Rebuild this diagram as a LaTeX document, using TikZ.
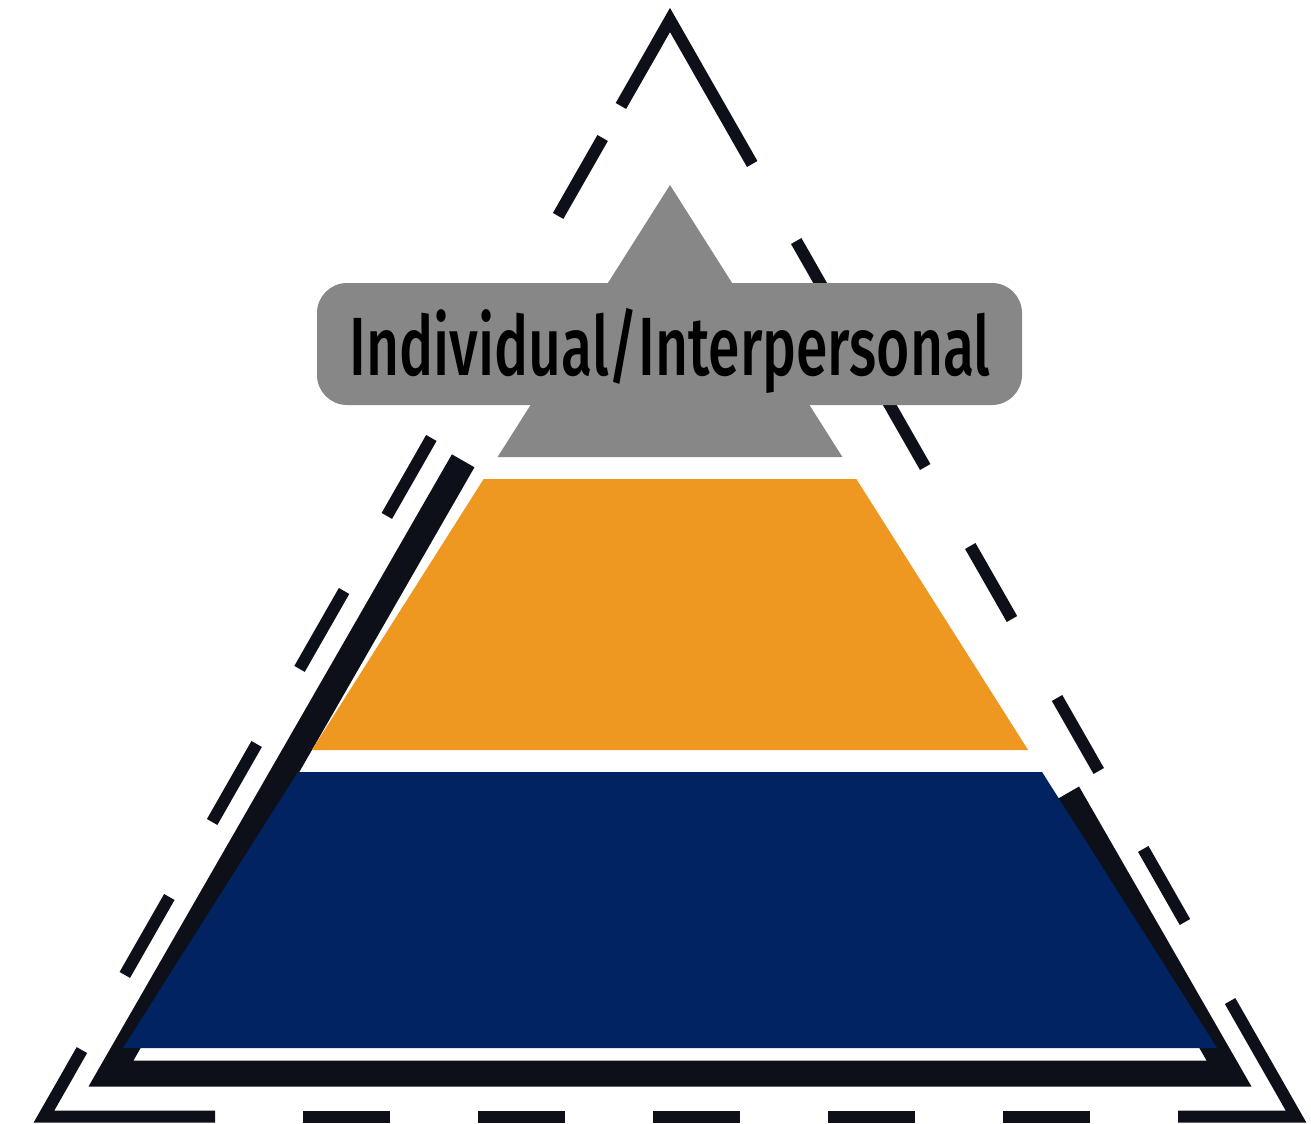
\documentclass[tikz,border=0pt]{standalone}
\usepackage{fontspec}
\newfontfamily\labelfont[FakeStretch=0.69]{Fira Sans Medium}
\usetikzlibrary{calc}
\definecolor{inkblack}{RGB}{13,16,24}
\definecolor{layergray}{RGB}{135,135,135}
\definecolor{layerorange}{RGB}{239,152,33}
\definecolor{layernavy}{RGB}{1,35,97}

\begin{document}
\begin{tikzpicture}[x=0.75pt,y=0.75pt,yscale=-1,xscale=1,
	dashedge/.style={draw=inkblack,line width=9pt},
	thickedge/.style={draw=inkblack,line width=19.5pt},
	labelbox/.style={fill=layergray,rounded corners=22.5pt,minimum width=528.75pt,minimum height=91.5pt,inner sep=0pt},
	labeltext/.style={font=\labelfont\fontsize{62}{62}\selectfont,text=black,inner sep=0pt}]
	\useasboundingbox (0,0) rectangle (1311,1124);
	
	%Outer dashed triangle
	\coordinate (T) at (670,20);
	\coordinate (L) at (44,1116.5);
	\coordinate (R) at (1296,1116.5);
	% corner pieces
	\draw [dashedge] ($(T)!0.0784!(L)$) -- (T) -- ($(T)!0.1313!(R)$) ;
	\draw [dashedge] ($(T)!0.9394!(L)$) -- (L) -- ($(L)!0.1366!(R)$) ;
	\draw [dashedge] ($(L)!0.9058!(R)$) -- (R) -- ($(T)!0.8947!(R)$) ;
	% dashes on the left side
	\foreach \a/\b in {0.1076/0.1787,0.2471/0.3182,0.3812/0.4523,0.5207/0.5918,0.6603/0.7314,0.7998/0.8709}
		\draw [dashedge] ($(T)!\a!(L)$) -- ($(T)!\b!(L)$) ;
	% dashes on the right side
	\foreach \a/\b in {0.2016/0.2709,0.3384/0.4077,0.4797/0.5463,0.6183/0.6849,0.7560/0.8226}
		\draw [dashedge] ($(T)!\a!(R)$) -- ($(T)!\b!(R)$) ;
	% dashes on the base
	\foreach \a/\b in {0.2069/0.2764,0.3466/0.4161,0.4864/0.5559,0.6262/0.6957,0.7660/0.8355}
		\draw [dashedge] ($(L)!\a!(R)$) -- ($(L)!\b!(R)$) ;
	
	%Thick open triangle
	\coordinate (M) at (670,101);
	\coordinate (ML) at (111,1073.5);
	\coordinate (MR) at (1229,1073.5);
	\draw [thickedge] ($(M)!0.370!(ML)$) -- (ML) -- (MR) -- ($(M)!0.7116!(MR)$) ;
	
	%Pyramid layers
	\coordinate (A) at (670,185);
	\coordinate (P) at (123,1048);
	\coordinate (Q) at (1217,1048);
	% top
	\fill [layergray] (A) -- ($(A)!0.3152!(P)$) -- ($(A)!0.3152!(Q)$) -- cycle ;
	% middle
	\fill [layerorange] ($(A)!0.3407!(P)$) -- ($(A)!0.6547!(P)$) -- ($(A)!0.6547!(Q)$) -- ($(A)!0.3407!(Q)$) -- cycle ;
	% bottom
	\fill [layernavy] ($(A)!0.6802!(P)$) -- (P) -- (Q) -- ($(A)!0.6802!(Q)$) -- cycle ;
	
	% Text Node
	\node [labelbox] (lblbox) at (669.5,344) {};
	\node [labeltext,anchor=base] (lbltext) at (670,375) {Individual/Interpersonal};
	
\end{tikzpicture}
\end{document}
